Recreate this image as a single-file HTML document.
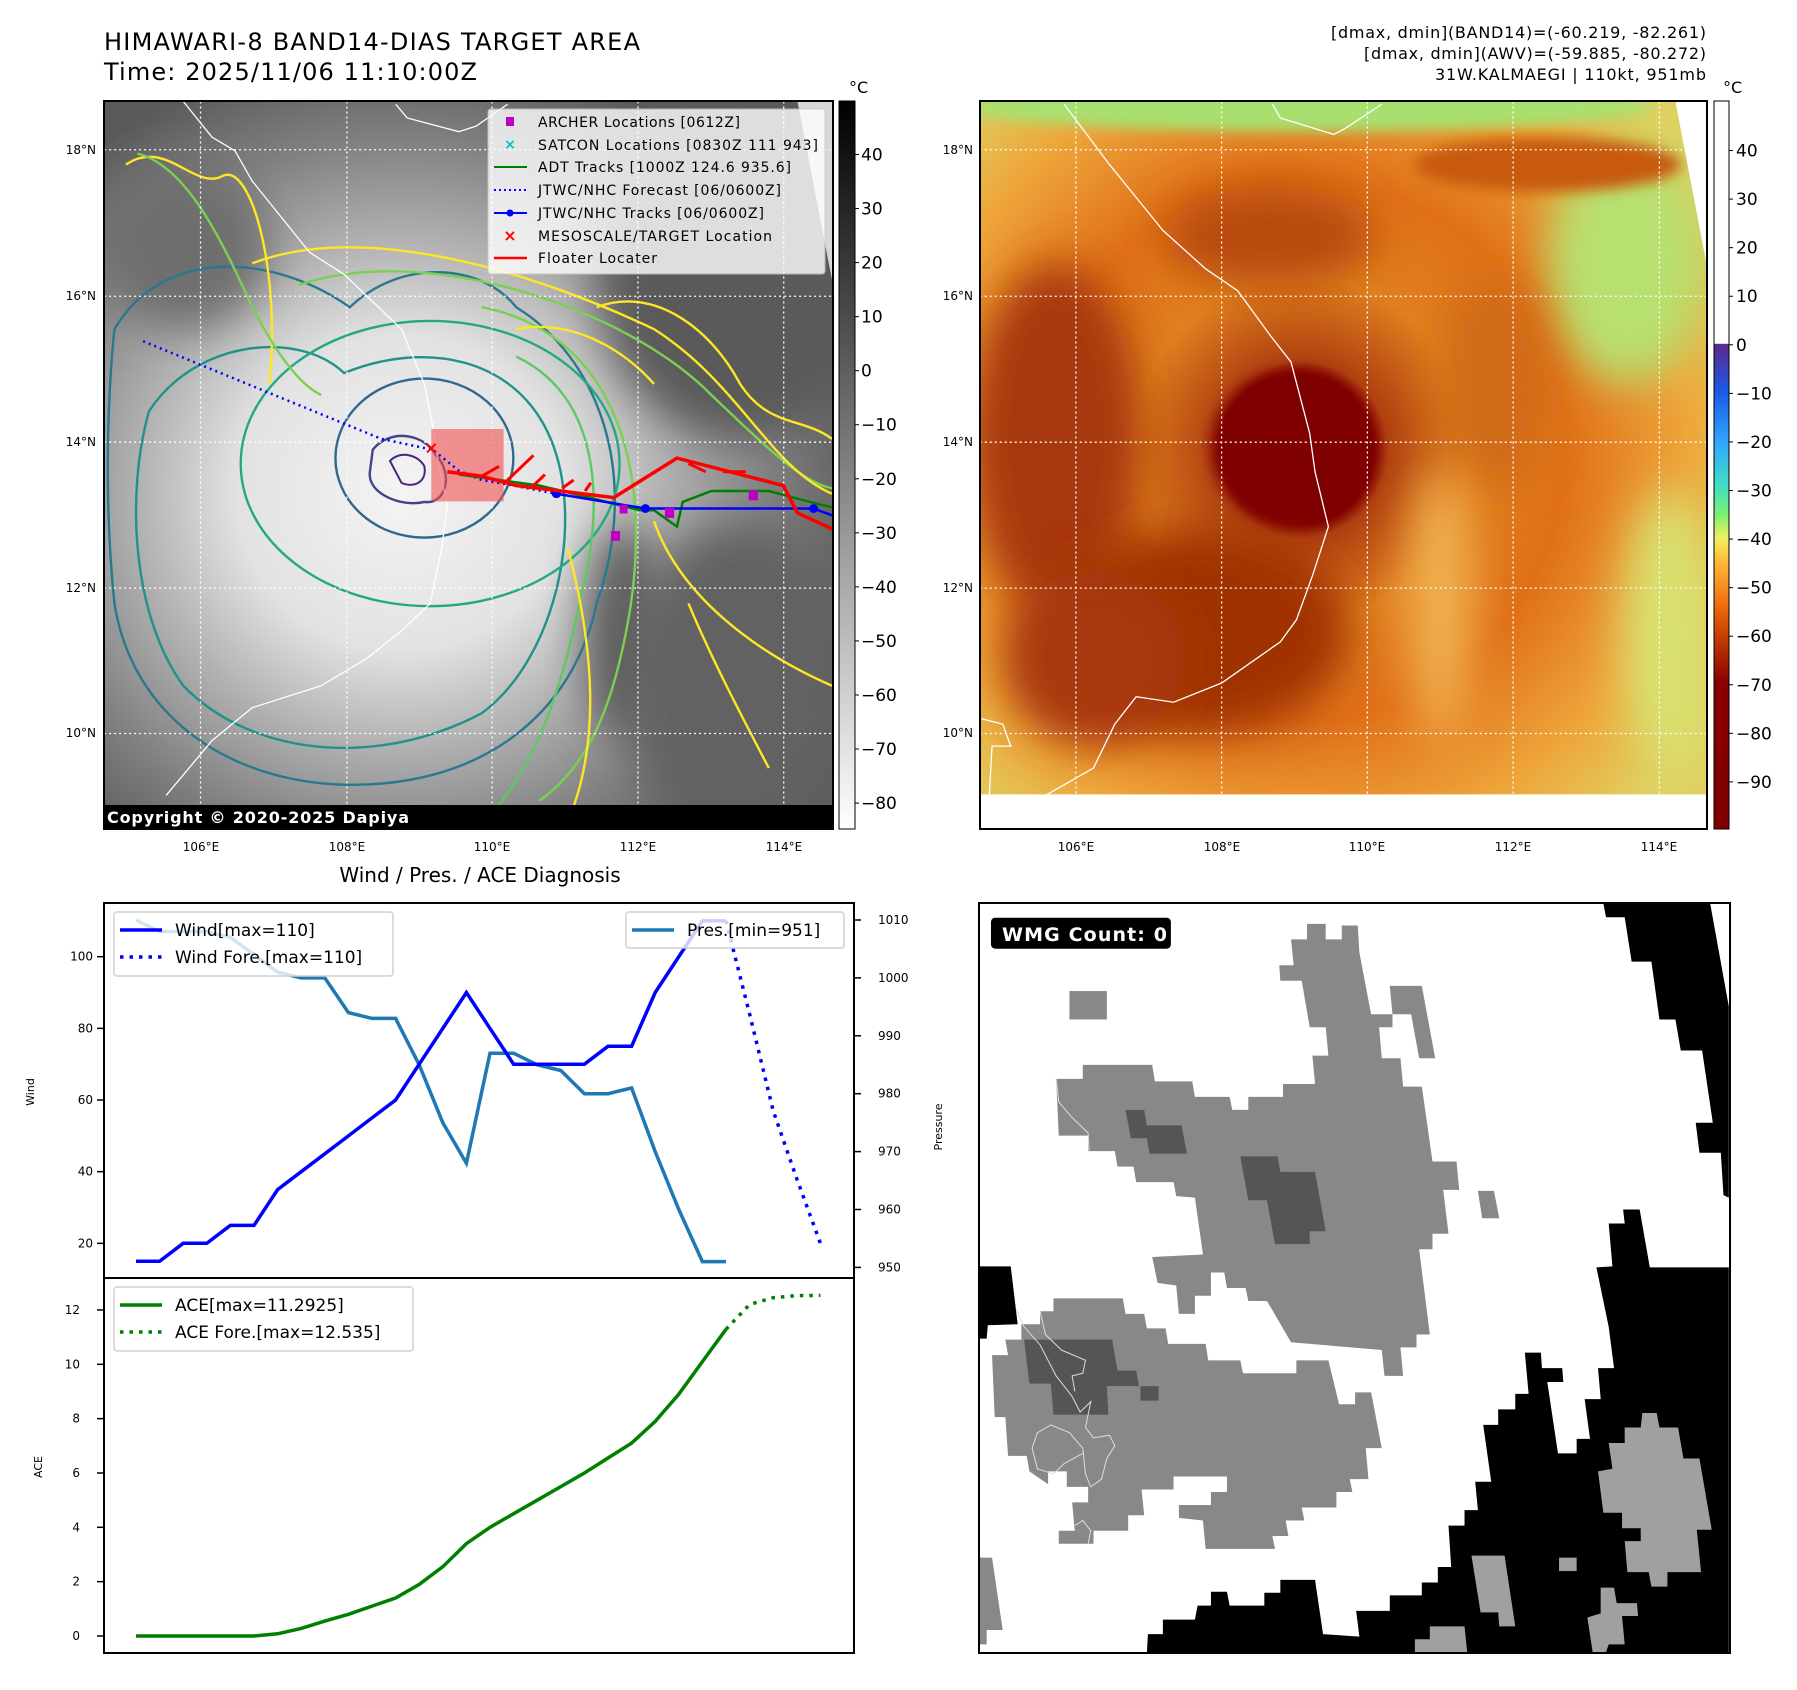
<!DOCTYPE html>
<html><head><meta charset="utf-8"><style>
html,body{margin:0;padding:0;background:#fff}
svg{display:block;font-family:"DejaVu Sans","Liberation Sans",sans-serif}
</style></head><body>
<svg id="root" width="1797" height="1690" viewBox="0 0 1797 1690" xmlns="http://www.w3.org/2000/svg">
<defs>
 <radialGradient id="g1" cx="560" cy="900" r="820" gradientUnits="userSpaceOnUse">
  <stop offset="0" stop-color="#f4f4f4"/><stop offset="0.35" stop-color="#e2e2e2"/>
  <stop offset="0.55" stop-color="#b4b4b4"/><stop offset="0.8" stop-color="#7e7e7e"/><stop offset="1" stop-color="#5a5a5a"/>
 </radialGradient>
 <radialGradient id="g2" cx="640" cy="820" r="900" gradientUnits="userSpaceOnUse">
  <stop offset="0" stop-color="#7a0000"/><stop offset="0.15" stop-color="#800000"/><stop offset="0.18" stop-color="#b04010"/>
  <stop offset="0.35" stop-color="#e0801f"/><stop offset="0.55" stop-color="#e07018"/><stop offset="0.8" stop-color="#eea53a"/><stop offset="1" stop-color="#e0d060"/>
 </radialGradient>
 <linearGradient id="cb1" x1="0" y1="0" x2="0" y2="1"><stop offset="0" stop-color="#000"/><stop offset="1" stop-color="#fff"/></linearGradient>
 <linearGradient id="cb2" x1="0" y1="0" x2="0" y2="1">
  <stop offset="0" stop-color="#fff"/><stop offset="0.333" stop-color="#fff"/><stop offset="0.334" stop-color="#5a2a8a"/>
  <stop offset="0.40" stop-color="#1a5ae8"/><stop offset="0.47" stop-color="#30a8ff"/><stop offset="0.53" stop-color="#40e0c0"/>
  <stop offset="0.57" stop-color="#80f070"/><stop offset="0.60" stop-color="#f0f060"/><stop offset="0.64" stop-color="#ffb030"/>
  <stop offset="0.69" stop-color="#f07010"/><stop offset="0.74" stop-color="#c03a00"/><stop offset="0.80" stop-color="#880000"/><stop offset="1" stop-color="#800000"/>
 </linearGradient>
 <filter id="blur" x="-50%" y="-50%" width="200%" height="200%"><feGaussianBlur stdDeviation="40"/></filter>
 <filter id="blur2" x="-50%" y="-50%" width="200%" height="200%"><feGaussianBlur stdDeviation="12"/></filter>
 <clipPath id="c1"><rect x="42" y="185" width="1270" height="1327"/></clipPath>
 <clipPath id="c2"><rect x="37" y="185" width="1363" height="1327"/></clipPath>
</defs>

<!-- titles -->
<text x="104" y="50" font-size="24" textLength="536">HIMAWARI-8 BAND14-DIAS TARGET AREA</text>
<text x="104" y="80" font-size="24" textLength="373">Time: 2025/11/06 11:10:00Z</text>
<g font-size="16" text-anchor="end">
<text x="1706" y="38" textLength="375">[dmax, dmin](BAND14)=(-60.219, -82.261)</text>
<text x="1706" y="59" textLength="342">[dmax, dmin](AWV)=(-59.885, -80.272)</text>
<text x="1706" y="80" textLength="271">31W.KALMAEGI | 110kt, 951mb</text>
</g>

<!-- MAP 1 -->
<g transform="translate(80,0) scale(0.574,0.5486)">
 <g clip-path="url(#c1)">
  <rect x="42" y="185" width="1270" height="1327" fill="url(#g1)"/>
  <ellipse cx="1150" cy="500" rx="250" ry="300" fill="#5a5a5a" filter="url(#blur)"/>
  <ellipse cx="950" cy="1150" rx="70" ry="200" fill="#5c5c5c" filter="url(#blur)"/>
  <ellipse cx="1150" cy="1250" rx="200" ry="300" fill="#626262" filter="url(#blur)"/>
  <ellipse cx="180" cy="450" rx="150" ry="150" fill="#6e6e6e" filter="url(#blur)"/>
  <polygon points="1250,185 1312,185 1312,520" fill="#d8d8d8"/>
  <g fill="none" stroke-width="2.4" vector-effect="non-scaling-stroke">
   <path d="M60,600 C150,440 350,470 470,560 C560,470 700,480 760,560 C900,650 980,860 900,1100 C860,1300 700,1440 450,1430 C250,1420 90,1300 60,1100 C40,900 50,700 60,600Z" stroke="#2a788e" stroke-width="2.4" vector-effect="non-scaling-stroke"/>
   <path d="M120,750 C200,620 380,600 460,680 C600,620 760,650 820,800 C880,950 830,1200 700,1300 C520,1400 300,1380 180,1250 C90,1120 80,900 120,750Z" stroke="#21918c" stroke-width="2.4" vector-effect="non-scaling-stroke"/>
   <ellipse cx="610" cy="845" rx="330" ry="260" stroke="#22a884" stroke-width="2.4" vector-effect="non-scaling-stroke"/>
   <ellipse cx="600" cy="835" rx="155" ry="145" stroke="#31688e" stroke-width="2.4" vector-effect="non-scaling-stroke"/>
   <path d="M510,820 C540,780 600,790 620,830 C650,860 640,920 600,915 C560,925 500,900 505,860Z" stroke="#414487" stroke-width="2.4" vector-effect="non-scaling-stroke"/>
   <path d="M540,840 C560,820 590,830 600,850 C605,880 580,890 560,880Z" stroke="#482878" stroke-width="2" vector-effect="non-scaling-stroke"/>
   <path d="M380,520 C600,440 950,560 1100,720 C1200,820 1260,880 1310,890" stroke="#7ad151" stroke-width="2.4" vector-effect="non-scaling-stroke"/>
   <path d="M700,560 C900,600 1000,800 960,1100 C930,1300 880,1400 800,1460" stroke="#7ad151" stroke-width="2.4" vector-effect="non-scaling-stroke"/>
   <path d="M760,650 C900,720 920,900 870,1100 C840,1250 800,1380 720,1480" stroke="#5ec962" stroke-width="2.4" vector-effect="non-scaling-stroke"/>
   <path d="M300,480 C500,400 800,500 1000,600 C1150,700 1200,850 1310,900" stroke="#fde725" stroke-width="2.4" vector-effect="non-scaling-stroke"/>
   <path d="M850,1000 C900,1200 900,1350 860,1470" stroke="#fde725" stroke-width="2.4" vector-effect="non-scaling-stroke"/>
   <path d="M1000,950 C1050,1100 1200,1200 1310,1250" stroke="#fde725" stroke-width="2.4" vector-effect="non-scaling-stroke"/>
   <path d="M80,300 C150,250 200,350 250,320 C300,300 350,500 330,700" stroke="#fde725" stroke-width="2.4" vector-effect="non-scaling-stroke"/>
   <path d="M100,280 C180,300 240,420 300,560 C340,640 380,700 420,720" stroke="#7ad151" stroke-width="2.4" vector-effect="non-scaling-stroke"/>
   <path d="M900,560 C1000,520 1100,600 1150,700 C1200,780 1260,760 1310,800" stroke="#fde725" stroke-width="2.4" vector-effect="non-scaling-stroke"/>
   <path d="M760,600 C860,580 950,640 1000,700" stroke="#fde725" stroke-width="2.4" vector-effect="non-scaling-stroke"/>
   <path d="M1060,1100 C1100,1200 1150,1300 1200,1400" stroke="#fde725" stroke-width="2.4" vector-effect="non-scaling-stroke"/>
  </g>
  <g fill="none" stroke="#fff" stroke-width="1.3" vector-effect="non-scaling-stroke">
   <path d="M180,185 L230,250 L270,275 L300,330 L400,460 L460,500 L560,600 L600,700 L615,780 L625,850 L640,920 L630,1000 L610,1100 L560,1150 L500,1200 L420,1250 L300,1290 L230,1350 L150,1450" vector-effect="non-scaling-stroke"/>
   <path d="M550,190 L570,215 L660,240 L690,230 L745,190" vector-effect="non-scaling-stroke"/>
  </g>
  <g stroke="#fff" stroke-width="1.3" stroke-dasharray="2,3" vector-effect="non-scaling-stroke">
   <line x1="210" y1="185" x2="210" y2="1512" vector-effect="non-scaling-stroke"/><line x1="465" y1="185" x2="465" y2="1512" vector-effect="non-scaling-stroke"/>
   <line x1="718" y1="185" x2="718" y2="1512" vector-effect="non-scaling-stroke"/><line x1="972" y1="185" x2="972" y2="1512" vector-effect="non-scaling-stroke"/>
   <line x1="1226" y1="185" x2="1226" y2="1512" vector-effect="non-scaling-stroke"/>
   <line x1="42" y1="273" x2="1312" y2="273" vector-effect="non-scaling-stroke"/><line x1="42" y1="540" x2="1312" y2="540" vector-effect="non-scaling-stroke"/>
   <line x1="42" y1="806" x2="1312" y2="806" vector-effect="non-scaling-stroke"/><line x1="42" y1="1072" x2="1312" y2="1072" vector-effect="non-scaling-stroke"/>
   <line x1="42" y1="1337" x2="1312" y2="1337" vector-effect="non-scaling-stroke"/>
  </g>
  <rect x="612" y="782" width="126" height="132" fill="#f05050" opacity="0.6"/>
  <polyline points="110,622 525,800 615,820 660,858 700,875 745,883 830,900" fill="none" stroke="#0000ff" stroke-width="2.5" stroke-dasharray="2,4" vector-effect="non-scaling-stroke"/>
  <polyline points="660,865 800,885 880,905 975,930 1000,930 1040,960 1050,915 1100,895 1200,895 1290,920 1312,925" fill="none" stroke="#008000" stroke-width="2.5" vector-effect="non-scaling-stroke"/>
  <polyline points="830,900 985,927 1278,927 1312,940" fill="none" stroke="#0000ff" stroke-width="2.5" vector-effect="non-scaling-stroke"/>
  <g fill="#0000ff"><circle cx="830" cy="900" r="8"/><circle cx="985" cy="927" r="8"/><circle cx="1278" cy="927" r="8"/></g>
  <polyline points="640,860 700,868 760,885 930,907 1040,835 1225,885 1250,935 1312,965" fill="none" stroke="#ff0000" stroke-width="3.5" vector-effect="non-scaling-stroke"/>
  <g stroke="#ff0000" stroke-width="3" vector-effect="non-scaling-stroke" fill="none">
   <path d="M700,868 L730,850 M740,880 L790,830 M790,885 L810,865 M840,890 L860,875 M880,895 L890,880 M1060,845 L1090,860 M1120,860 L1160,860" vector-effect="non-scaling-stroke"/>
  </g>
  <g fill="#c000c0"><rect x="925" y="968" width="16" height="18"/><rect x="1019" y="926" width="16" height="18"/><rect x="1165" y="894" width="16" height="18"/><rect x="940" y="920" width="14" height="16"/></g>
  <text x="612" y="818" font-size="30" fill="#ff0000" text-anchor="middle" dominant-baseline="middle" font-weight="bold">×</text>
 </g>
</g>
<rect x="104" y="101" width="729" height="728" fill="none" stroke="#000" stroke-width="2"/>
<rect x="104" y="805" width="729" height="25" fill="#000"/>
<text x="107" y="823" font-size="16" font-weight="bold" fill="#fff" textLength="302">Copyright © 2020-2025 Dapiya</text>

<!-- legend map 1 -->
<g>
 <rect x="488" y="109" width="337" height="165" rx="3" fill="#fff" opacity="0.8" stroke="#ccc"/>
 <rect x="506" y="117" width="8" height="9" fill="#c000c0"/>
 <text x="510" y="149" font-size="14" fill="#00c0c0" text-anchor="middle" font-weight="bold">×</text>
 <line x1="494" y1="167" x2="527" y2="167" stroke="#008000" stroke-width="2"/>
 <line x1="494" y1="190" x2="527" y2="190" stroke="#0000ff" stroke-width="2" stroke-dasharray="2,3"/>
 <line x1="494" y1="213" x2="527" y2="213" stroke="#0000ff" stroke-width="2"/><circle cx="510" cy="213" r="3.5" fill="#0000ff"/>
 <text x="510" y="241" font-size="16" fill="#ff0000" text-anchor="middle" font-weight="bold">×</text>
 <line x1="494" y1="258" x2="527" y2="258" stroke="#ff0000" stroke-width="2.5"/>
 <g font-size="14">
  <text x="538" y="127" textLength="202">ARCHER Locations [0612Z]</text>
  <text x="538" y="150" textLength="280">SATCON Locations [0830Z 111 943]</text>
  <text x="538" y="172" textLength="253">ADT Tracks [1000Z 124.6 935.6]</text>
  <text x="538" y="195" textLength="243">JTWC/NHC Forecast [06/0600Z]</text>
  <text x="538" y="218" textLength="226">JTWC/NHC Tracks [06/0600Z]</text>
  <text x="538" y="241" textLength="234">MESOSCALE/TARGET Location</text>
  <text x="538" y="263" textLength="119">Floater Locater</text>
 </g>
</g>

<!-- map1 axis labels -->
<g font-size="12" text-anchor="middle">
 <text x="201" y="851">106°E</text><text x="347" y="851">108°E</text><text x="492" y="851">110°E</text><text x="638" y="851">112°E</text><text x="784" y="851">114°E</text>
</g>
<g font-size="12" text-anchor="end">
 <text x="96" y="154">18°N</text><text x="96" y="300">16°N</text><text x="96" y="446">14°N</text><text x="96" y="592">12°N</text><text x="96" y="737">10°N</text>
</g>
<!-- colorbar 1 -->
<rect x="839" y="101" width="16" height="728" fill="url(#cb1)" stroke="#000" stroke-width="1"/>
<text x="849" y="93" font-size="16">°C</text>
<g font-size="18" id="cb1ticks"></g>

<!-- MAP 2 -->
<g transform="translate(960,0) scale(0.5339,0.5486)">
 <g clip-path="url(#c2)">
  <rect x="37" y="185" width="1363" height="1327" fill="url(#g2)"/>
  <ellipse cx="650" cy="195" rx="650" ry="45" fill="#a8e070" filter="url(#blur2)"/>
  <ellipse cx="1250" cy="480" rx="150" ry="220" fill="#b8e070" filter="url(#blur)"/>
  <ellipse cx="1330" cy="1150" rx="90" ry="260" fill="#d8e070" filter="url(#blur)"/>
  <ellipse cx="1100" cy="300" rx="250" ry="50" fill="#c85a10" filter="url(#blur2)"/>
  <ellipse cx="180" cy="800" rx="160" ry="320" fill="#a83808" filter="url(#blur)"/>
  <ellipse cx="450" cy="1150" rx="280" ry="190" fill="#a03000" filter="url(#blur)"/>
  <ellipse cx="250" cy="1200" rx="170" ry="160" fill="#a83808" filter="url(#blur)"/>
  <ellipse cx="580" cy="430" rx="200" ry="90" fill="#b84808" filter="url(#blur)"/>
  <ellipse cx="1000" cy="700" rx="100" ry="200" fill="#d06a18" filter="url(#blur)"/>
  <ellipse cx="900" cy="1100" rx="60" ry="250" fill="#f0b050" filter="url(#blur)"/>
  <ellipse cx="620" cy="815" rx="150" ry="140" fill="#800000" filter="url(#blur2)"/>
  <ellipse cx="622" cy="810" rx="135" ry="125" fill="#7e0000"/>
  <polygon points="1340,185 1400,185 1400,490" fill="#fff"/>
  <rect x="37" y="1448" width="1363" height="70" fill="#fff"/>
  <g fill="none" stroke="#fff" stroke-width="1.3">
   <path d="M195,190 L280,300 L380,420 L460,490 L520,530 L580,610 L620,660 L655,790 L665,860 L690,960 L660,1050 L630,1130 L600,1170 L490,1245 L400,1280 L330,1270 L290,1320 L250,1400 L160,1450" vector-effect="non-scaling-stroke"/>
   <path d="M585,190 L600,215 L700,245 L720,235 L790,190" vector-effect="non-scaling-stroke"/>
   <path d="M40,1310 L80,1320 L95,1360 L60,1360 L55,1448" vector-effect="non-scaling-stroke"/>
  </g>
  <g stroke="#fff" stroke-width="1.3" stroke-dasharray="2,3">
   <line x1="217" y1="185" x2="217" y2="1512" vector-effect="non-scaling-stroke"/><line x1="490" y1="185" x2="490" y2="1512" vector-effect="non-scaling-stroke"/>
   <line x1="763" y1="185" x2="763" y2="1512" vector-effect="non-scaling-stroke"/><line x1="1036" y1="185" x2="1036" y2="1512" vector-effect="non-scaling-stroke"/>
   <line x1="1310" y1="185" x2="1310" y2="1512" vector-effect="non-scaling-stroke"/>
   <line x1="37" y1="273" x2="1400" y2="273" vector-effect="non-scaling-stroke"/><line x1="37" y1="540" x2="1400" y2="540" vector-effect="non-scaling-stroke"/>
   <line x1="37" y1="806" x2="1400" y2="806" vector-effect="non-scaling-stroke"/><line x1="37" y1="1072" x2="1400" y2="1072" vector-effect="non-scaling-stroke"/>
   <line x1="37" y1="1337" x2="1400" y2="1337" vector-effect="non-scaling-stroke"/>
  </g>
 </g>
</g>
<rect x="980" y="101" width="727" height="728" fill="none" stroke="#000" stroke-width="2"/>
<g font-size="12" text-anchor="middle">
 <text x="1076" y="851">106°E</text><text x="1222" y="851">108°E</text><text x="1367" y="851">110°E</text><text x="1513" y="851">112°E</text><text x="1659" y="851">114°E</text>
</g>
<g font-size="12" text-anchor="end">
 <text x="973" y="154">18°N</text><text x="973" y="300">16°N</text><text x="973" y="446">14°N</text><text x="973" y="592">12°N</text><text x="973" y="737">10°N</text>
</g>
<rect x="1714" y="101" width="15" height="728" fill="url(#cb2)" stroke="#000" stroke-width="1"/>
<text x="1723" y="93" font-size="16">°C</text>
<g font-size="18" id="cb2ticks"></g>

<!-- BOTTOM RIGHT -->
<g transform="translate(960,880) scale(0.5339,0.5165)">
 <rect x="36" y="45" width="1406" height="1452" fill="#fff"/>
 <g fill="#000">
  <polygon points="1205,45 1405,45 1440,245 1440,615 1430,610 1425,528 1385,528 1378,470 1410,470 1390,330 1350,330 1340,270 1310,270 1295,158 1258,158 1245,72 1210,72"/>
  <polygon points="1192,750 1222,748 1215,665 1245,665 1242,638 1273,638 1292,750 1440,750 1440,1497 350,1497 352,1460 380,1460 380,1432 440,1432 445,1405 470,1405 470,1378 500,1378 505,1405 570,1405 570,1380 600,1380 600,1355 665,1355 680,1460 748,1465 742,1415 805,1415 805,1385 865,1385 865,1360 895,1360 895,1330 920,1330 915,1250 945,1250 945,1220 970,1220 965,1165 995,1165 980,1055 1008,1055 1008,1025 1040,1025 1040,995 1065,995 1058,915 1088,915 1090,945 1128,945 1130,972 1100,972 1120,1110 1155,1110 1155,1082 1180,1082 1170,1005 1200,1005 1195,945 1225,945 1215,865"/>
  <polygon points="36,748 95,748 108,860 52,862 50,888 36,888"/>
 </g>
 <g fill="#888">
  <polygon points="620,115 650,115 650,85 685,85 685,115 715,115 715,88 745,88 748,140 770,260 810,260 810,285 785,285 790,345 825,345 830,400 865,400 885,545 930,545 935,600 905,600 915,685 885,685 885,715 860,715 880,880 855,880 855,905 825,905 830,960 795,960 790,910 620,895 575,815 540,815 535,790 500,790 495,760 470,760 470,805 440,805 440,840 410,840 405,785 370,780 360,730 455,725 440,615 405,612 400,585 330,585 325,555 295,555 290,525 240,525 240,495 185,495 180,385 230,385 230,358 360,358 365,390 435,390 440,420 505,420 510,445 540,445 540,420 605,420 605,395 665,395 660,340 690,340 685,285 655,285 640,195 600,195 598,165 625,165"/>
  <rect x="205" y="215" width="70" height="55"/>
  <polygon points="805,205 865,205 890,345 860,345 845,260 810,260"/>
  <polygon points="970,602 1000,602 1010,655 978,655"/>
  <polygon points="175,810 305,810 310,840 345,840 350,868 385,868 390,898 460,898 465,930 525,930 530,955 630,955 630,930 690,930 710,1015 740,1015 740,992 770,992 790,1100 760,1100 765,1160 730,1160 735,1185 705,1185 705,1215 640,1215 645,1240 610,1240 615,1270 585,1270 590,1295 460,1295 455,1240 410,1235 410,1210 470,1210 470,1185 500,1185 500,1155 400,1155 400,1180 340,1180 345,1230 315,1230 315,1260 250,1260 250,1285 185,1285 185,1260 215,1260 210,1205 240,1205 240,1175 200,1175 200,1145 165,1145 165,1170 130,1145 125,1115 90,1115 85,1040 65,1040 60,920 90,920 85,890 115,890 115,860 150,860 150,835 175,835"/>
  <polygon points="36,1312 60,1312 80,1452 50,1452 50,1480 36,1480"/>
 </g>
 <g fill="#555">
  <polygon points="310,445 345,445 350,475 415,475 425,530 355,530 350,500 320,500"/>
  <polygon points="525,535 595,535 600,565 665,565 685,680 655,680 655,705 590,705 575,620 540,620"/>
  <polygon points="120,890 285,890 295,950 330,950 335,980 275,980 278,1035 175,1035 170,975 130,975"/>
  <rect x="338" y="980" width="34" height="28"/>
 </g>
 <g fill="#a0a0a0">
  <polygon points="1245,1060 1275,1060 1278,1032 1305,1032 1310,1060 1345,1060 1355,1120 1385,1120 1408,1258 1380,1258 1388,1340 1325,1340 1325,1368 1295,1368 1290,1340 1250,1340 1245,1280 1275,1280 1275,1255 1240,1255 1240,1225 1205,1225 1195,1145 1222,1140 1215,1090 1245,1090"/>
  <polygon points="958,1308 1020,1308 1040,1445 1010,1445 1008,1418 975,1418"/>
  <polygon points="1200,1370 1225,1370 1230,1400 1268,1400 1270,1425 1240,1425 1245,1480 1215,1480 1210,1495 1185,1495 1175,1428 1200,1420"/>
  <polygon points="852,1470 880,1470 880,1445 945,1445 950,1495 852,1495"/>
  <rect x="1122" y="1312" width="33" height="26"/>
 </g>
 <g fill="none" stroke="#ddd" stroke-width="1">
  <path d="M180,385 L185,430 L210,460 L240,490 L242,525" vector-effect="non-scaling-stroke"/>
  <path d="M105,830 L120,865 L150,900 L180,960 L210,1000 L225,1030 L245,1010 L235,1060 L250,1080 L280,1075 L290,1095 L275,1120 L265,1160 L245,1175 L235,1150 L230,1100 L205,1070 L170,1055 L145,1070 L135,1100 L145,1140 L175,1150 L195,1130 L230,1110" vector-effect="non-scaling-stroke"/>
  <path d="M150,835 L160,880 L190,910 L235,930 L230,955 L210,960 L215,990" vector-effect="non-scaling-stroke"/>
  <path d="M215,1250 L230,1240 L245,1260 L240,1285" vector-effect="non-scaling-stroke"/>
 </g>
 <rect x="58" y="73" width="337" height="60" rx="8" fill="#000"/>
</g>
<rect x="979" y="903" width="751" height="750" fill="none" stroke="#000" stroke-width="2"/>
<text x="1002" y="941" font-size="19" font-weight="bold" fill="#fff" textLength="165">WMG Count: 0</text>

<!-- BOTTOM LEFT CHART -->
<text x="480" y="882" font-size="20" text-anchor="middle">Wind / Pres. / ACE Diagnosis</text>
<g id="chart"></g>
</svg>
<script>
// ---- chart data ----
const windObs = [15,15,20,20,25,25,35,40,45,50,55,60,70,80,90,80,70,70,70,70,75,75,90,100,110,110];
const windFore = [110,84,57,38,20];
const presObs = [1010,1008,1008,1008,1007,1004,1001,1000,1000,994,993,993,985,975,968,987,987,985,984,980,980,981,970,960,951,951];
const aceObs = [0,0,0,0,0,0,0.08,0.28,0.55,0.8,1.1,1.4,1.9,2.55,3.4,4.0,4.5,5.0,5.5,6.0,6.55,7.1,7.9,8.9,10.1,11.29];
const aceFore = [11.29,12.2,12.45,12.53,12.535];
const windTicks = [20,40,60,80,100];
const presTicks = [950,960,970,980,990,1000,1010];
const aceTicks = [0,2,4,6,8,10,12];
const cb1Ticks = [40,30,20,10,0,-10,-20,-30,-40,-50,-60,-70,-80];
const cb2Ticks = [40,30,20,10,0,-10,-20,-30,-40,-50,-60,-70,-80,-90];

const NS = "http://www.w3.org/2000/svg";
function mk(tag, attrs, parent){ const e=document.createElementNS(NS,tag); for(const k in attrs) e.setAttribute(k,attrs[k]); parent.appendChild(e); return e; }
const xOf = i => 136.0 + 23.6*i;
const yWind = w => 956.7 + (100-w)*3.583;
const yPres = p => 920 + (1010-p)*5.79;
const yAce = a => 1636 - a*27.17;
const yCb1 = v => 101 + (49.9 - v)*(728/134.7);
const yCb2 = v => 101 + (50.2 - v)*(728/149.9);

const root = document.getElementById('chart');
const f1 = mk('rect',{x:104,y:903,width:750,height:375,fill:'none',stroke:'#000','stroke-width':2},root);


const f2 = mk('rect',{x:104,y:1278,width:750,height:375,fill:'none',stroke:'#000','stroke-width':2},root);



function pts(arr, fy, off){ return arr.map((v,i)=>xOf(i+off).toFixed(1)+','+fy(v).toFixed(1)).join(' '); }
const pl = mk('polyline',{points:pts(presObs,yPres,0),fill:'none',stroke:'#1f77b4','stroke-width':3.5},root);


const wl = mk('polyline',{points:pts(windObs,yWind,0),fill:'none',stroke:'#0000ff','stroke-width':3.5},root);


const wf = mk('polyline',{points:pts(windFore,yWind,windObs.length-1),fill:'none',stroke:'#0000ff','stroke-width':3.5,'stroke-dasharray':'3.5,6'},root);


const al = mk('polyline',{points:pts(aceObs,yAce,0),fill:'none',stroke:'#008000','stroke-width':3.5},root);


const af = mk('polyline',{points:pts(aceFore,yAce,aceObs.length-1),fill:'none',stroke:'#008000','stroke-width':3.5,'stroke-dasharray':'3.5,6'},root);



windTicks.forEach(v=>{ const y=yWind(v);
 mk('line',{x1:97,y1:y,x2:104,y2:y,stroke:'#000','stroke-width':1.5},root);
 const t=mk('text',{x:93,y:y+4,'font-size':12,'text-anchor':'end'},root); t.textContent=v;
 
  });
presTicks.forEach(v=>{ const y=yPres(v);
 mk('line',{x1:854,y1:y,x2:861,y2:y,stroke:'#000','stroke-width':1.5},root);
 const t=mk('text',{x:878,y:y+4,'font-size':12},root); t.textContent=v;
 
  });
aceTicks.forEach(v=>{ const y=yAce(v);
 mk('line',{x1:97,y1:y,x2:104,y2:y,stroke:'#000','stroke-width':1.5},root);
 const t=mk('text',{x:80,y:y+4,'font-size':12,'text-anchor':'end'},root); t.textContent=v;
 
  });

function label(txt,x,y,rot,name){ const t=mk('text',{x:x,y:y,'font-size':11,'text-anchor':'middle',transform:'rotate('+rot+' '+x+' '+y+')'},root); t.textContent=txt;
 
  }
label('Wind',34,1092,-90,'wind-axis-title');
label('Pressure',942,1127,-90,'pressure-axis-title');
label('ACE',42,1467,-90,'ace-axis-title');

function legend(x,y,w,h,items,name){ const g=mk('g',{},root);
 
 
 mk('rect',{x:x,y:y,width:w,height:h,rx:3,fill:'#fff','fill-opacity':0.8,stroke:'#d0d0d0','stroke-width':1.5},g);
 items.forEach((it,k)=>{ const cy=y+18+k*27;
  const a={x1:x+6,y1:cy,x2:x+48,y2:cy,stroke:it.c,'stroke-width':3.5}; if(it.d) a['stroke-dasharray']='3.5,6';
  mk('line',a,g);
  const t=mk('text',{x:x+61,y:cy+6,'font-size':17},g); t.textContent=it.t; });
}
legend(114,912,279,64,[{c:'#0000ff',t:'Wind[max=110]'},{c:'#0000ff',t:'Wind Fore.[max=110]',d:1}],'wind-legend');
legend(626,912,218,36,[{c:'#1f77b4',t:'Pres.[min=951]'}],'pressure-legend');
legend(114,1287,299,64,[{c:'#008000',t:'ACE[max=11.2925]'},{c:'#008000',t:'ACE Fore.[max=12.535]',d:1}],'ace-legend');

const cb1 = document.getElementById('cb1ticks');
cb1Ticks.forEach(v=>{ const y=yCb1(v);
 mk('line',{x1:855,y1:y,x2:859,y2:y,stroke:'#000'},cb1);
 const t=mk('text',{x:861,y:y+6,'font-size':17},cb1); t.textContent=(v<0?'\u2212'+(-v):v);
 
  });
const cb2 = document.getElementById('cb2ticks');
cb2Ticks.forEach(v=>{ const y=yCb2(v);
 mk('line',{x1:1729,y1:y,x2:1733,y2:y,stroke:'#000'},cb2);
 const t=mk('text',{x:1736,y:y+6,'font-size':17},cb2); t.textContent=(v<0?'\u2212'+(-v):v);
 
  });
</script>
</body></html>
